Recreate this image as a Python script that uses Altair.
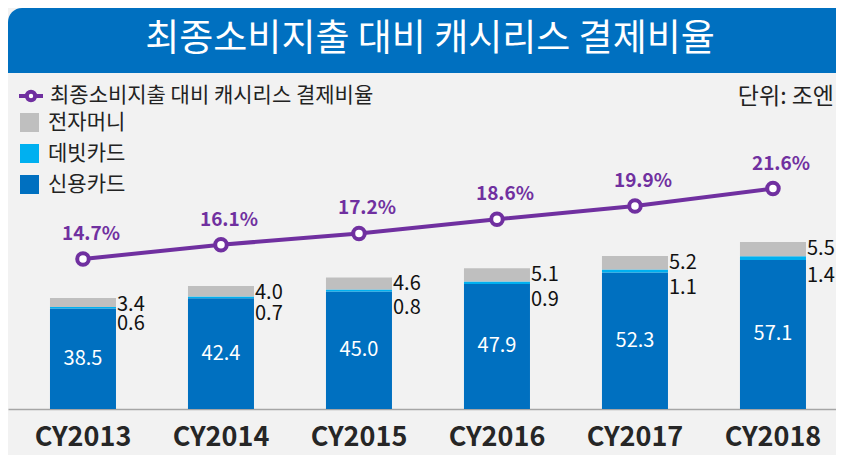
import altair as alt
import pandas as pd

years = ["CY2013", "CY2014", "CY2015", "CY2016", "CY2017", "CY2018"]
credit = [38.5, 42.4, 45.0, 47.9, 52.3, 57.1]
debit = [0.6, 0.7, 0.8, 0.9, 1.1, 1.4]
emoney = [3.4, 4.0, 4.6, 5.1, 5.2, 5.5]
ratio = [14.7, 16.1, 17.2, 18.6, 19.9, 21.6]

series_names = ["전자머니", "데빗카드", "신용카드"]
series_colors = ["#BFBFBF", "#00B0F0", "#0070C0"]
line_name = "최종소비지출 대비 캐시리스 결제비율"
title_text = "최종소비지출 대비 캐시리스 결제비율"
unit_text = "단위: 조엔"

FONT = "Noto Sans CJK KR"
W, H = 828, 401
BAR_MAX = 153.6
PCT_MAX = 39.3
PURPLE = "#7030A0"

# ---- tables built from the lists ----
rows = []
for i, y in enumerate(years):
    for name, vals, order in [("신용카드", credit, 0), ("데빗카드", debit, 1), ("전자머니", emoney, 2)]:
        rows.append({"year": y, "type": name, "value": vals[i], "stack": order})
bars_df = pd.DataFrame(rows)

lab = pd.DataFrame({"year": years, "credit": credit, "debit": debit,
                    "emoney": emoney, "ratio": ratio})
lab["credit_mid"] = lab["credit"] / 2
lab["total"] = lab["credit"] + lab["debit"] + lab["emoney"]
lab["series"] = line_name
lab["credit_txt"] = lab["credit"].map(lambda v: f"{v:.1f}")
lab["debit_txt"] = lab["debit"].map(lambda v: f"{v:.1f}")
lab["emoney_txt"] = lab["emoney"].map(lambda v: f"{v:.1f}")
lab["ratio_txt"] = lab["ratio"].map(lambda v: f"{v:.1f}%")

X = alt.X("year:N", sort=years,
          scale=alt.Scale(paddingInner=0.5217, paddingOuter=0.2609, align=0.583),
          axis=alt.Axis(title=None, labelAngle=0, ticks=False, labelFontSize=27,
                        labelFontWeight="bold", labelColor="#262626", labelFont=FONT,
                        domainColor="#A6A6A6", domainWidth=1.5, labelPadding=15,
                        grid=False))
YB = lambda f: alt.Y(f, scale=alt.Scale(domain=[0, BAR_MAX], nice=False, zero=True), axis=None)
YP = lambda f: alt.Y(f, scale=alt.Scale(domain=[0, PCT_MAX], nice=False, zero=True), axis=None)

one = pd.DataFrame({"t": [title_text], "u": [unit_text]})

banner = alt.Chart(one).mark_rect(color="#0070C0", cornerRadiusTopLeft=14).encode(
    x=alt.value(0), x2=alt.value(W), y=alt.value(0), y2=alt.value(65))
banner_text = alt.Chart(one).mark_text(color="white", fontSize=37, font=FONT,
                                       align="center", baseline="middle").encode(
    x=alt.value(422), y=alt.value(32), text="t:N")
unit = alt.Chart(one).mark_text(color="#222222", fontSize=23, font=FONT,
                                align="right", baseline="middle").encode(
    x=alt.value(826), y=alt.value(89), text="u:N")

bars = alt.Chart(bars_df).mark_bar().encode(
    x=X,
    y=YB("value:Q"),
    color=alt.Color("type:N", scale=alt.Scale(domain=series_names, range=series_colors),
                    legend=alt.Legend(orient="none", legendX=11, legendY=104, title=None,
                                      symbolType="square", symbolSize=361,
                                      labelFontSize=21, labelFont=FONT, labelColor="#222222",
                                      rowPadding=9, labelOffset=8, padding=0,
                                      symbolStrokeWidth=0, symbolOpacity=1, labelLimit=0)),
    order=alt.Order("stack:Q"),
)

legend_path = ("M-1,0H-0.35 M0.35,0H1 M-0.35,0A0.35,0.35,0,1,1,0.35,0"
               "A0.35,0.35,0,1,1,-0.35,0")
line = alt.Chart(lab).mark_line(strokeWidth=4).encode(
    x=X,
    y=YP("ratio:Q"),
    color=alt.Color("series:N", scale=alt.Scale(domain=[line_name], range=[PURPLE]),
                    legend=alt.Legend(orient="none", legendX=9, legendY=74, title=None,
                                      symbolType=legend_path, symbolSize=576,
                                      symbolStrokeWidth=4, symbolFillColor="white",
                                      symbolStrokeColor=PURPLE,
                                      labelFontSize=21, labelFont=FONT, labelColor="#222222",
                                      labelOffset=5, padding=0, labelLimit=0)),
)
points = alt.Chart(lab).mark_point(filled=True, fill="white", stroke=PURPLE,
                                   strokeWidth=4, size=133, opacity=1).encode(
    x=X, y=YP("ratio:Q"))

pct_text = alt.Chart(lab).mark_text(color=PURPLE, fontSize=19, fontWeight="bold", font=FONT,
                                    dx=8, dy=-25, baseline="middle").encode(
    x=X, y=YP("ratio:Q"), text="ratio_txt:N")

credit_text = alt.Chart(lab).mark_text(color="white", fontSize=20, font=FONT,
                                       baseline="middle").encode(
    x=X, y=YB("credit_mid:Q"), text="credit_txt:N")
emoney_text = alt.Chart(lab).mark_text(color="#111111", fontSize=20, font=FONT,
                                       align="left", baseline="middle", dx=34, dy=7).encode(
    x=X, y=YB("total:Q"), text="emoney_txt:N")
debit_text = alt.Chart(lab).mark_text(color="#111111", fontSize=20, font=FONT,
                                      align="left", baseline="middle", dx=34, dy=16).encode(
    x=X, y=YB("credit:Q"), text="debit_txt:N")

chart = alt.layer(
    banner, banner_text, unit, bars, line, points, pct_text,
    credit_text, emoney_text, debit_text
).resolve_scale(
    y="independent", color="independent"
).properties(
    width=W, height=H, background="#F2F2F2",
    padding={"left": 0, "top": 0, "right": 0, "bottom": 46},
    autosize=alt.AutoSizeParams(type="none"),
).configure_view(stroke=None)

chart.save("out.html", embed_options={"renderer": "svg", "actions": False})
